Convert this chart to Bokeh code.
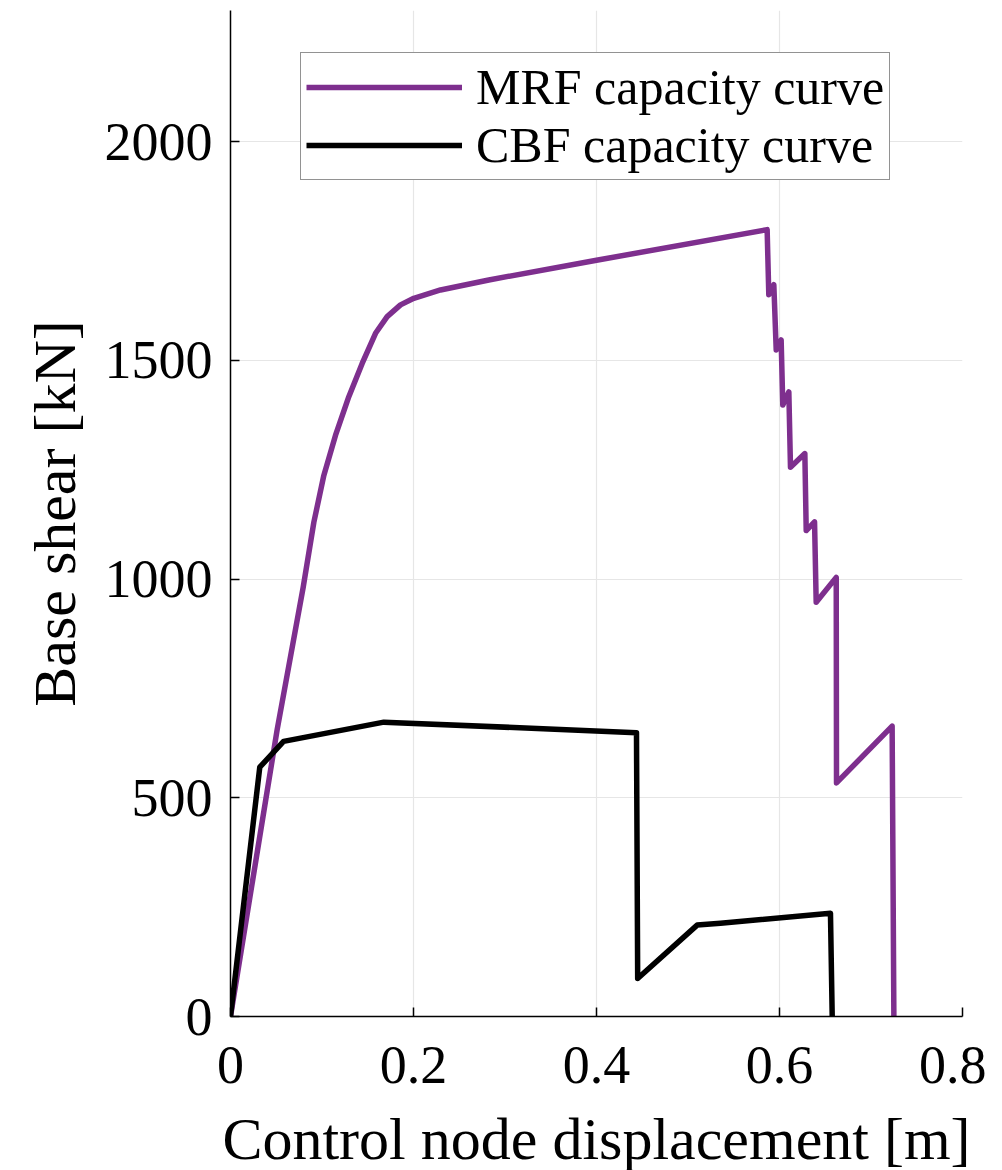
from bokeh.plotting import figure
from bokeh.models import Range1d, FixedTicker, Legend, LegendItem
from bokeh.embed import file_html
from bokeh.resources import INLINE

# MRF capacity curve (displacement [m], base shear [kN])
mrf_disp = [0.0, 0.051, 0.0794, 0.0911, 0.102, 0.1148, 0.1293, 0.1439, 0.1585, 0.1712, 0.1858,
            0.2003, 0.2295, 0.2823, 0.40, 0.5865,
            0.5883, 0.5938, 0.5964, 0.6018, 0.6036, 0.6102, 0.612, 0.6277, 0.6292, 0.6383, 0.6401,
            0.662, 0.6623, 0.7231, 0.725]
mrf_shear = [0, 656, 981, 1130, 1237, 1329, 1417, 1493, 1562, 1600, 1627,
             1642, 1661, 1684, 1729, 1799,
             1650, 1673, 1524, 1547, 1398, 1428, 1256, 1287, 1111, 1131, 947,
             1004, 534, 664, 0]

# CBF capacity curve
cbf_disp = [0.0, 0.032, 0.058, 0.1676, 0.4437, 0.445, 0.510, 0.5355, 0.6557, 0.6576]
cbf_shear = [0, 570, 629, 673, 649, 87, 209, 213, 236, 0]

x_ticks = [0, 0.2, 0.4, 0.6, 0.8]
x_tick_labels = {0: "0", 0.2: "0.2", 0.4: "0.4", 0.6: "0.6", 0.8: "0.8"}
y_ticks = [0, 500, 1000, 1500, 2000]

FONT = "Liberation Serif"

p = figure(output_backend="svg", toolbar_location=None,
           frame_width=732, frame_height=1006,
           min_border_left=230, min_border_right=24, min_border_top=10, min_border_bottom=138,
           x_range=Range1d(0, 0.8), y_range=Range1d(0, 2300))
p.outline_line_color = None
p.background_fill_color = "white"
p.border_fill_color = "white"

r1 = p.line(mrf_disp, mrf_shear, line_color="#7E2F8E", line_width=5.5, line_join="round")
r2 = p.line(cbf_disp, cbf_shear, line_color="black", line_width=5.5, line_join="round")

for ax in (p.xaxis[0], p.yaxis[0]):
    ax.major_tick_in = 9
    ax.major_tick_out = 0
    ax.minor_tick_in = 0
    ax.minor_tick_out = 0
    ax.major_tick_line_width = 1.5
    ax.major_tick_line_color = "black"
    ax.axis_line_color = "black"
    ax.axis_line_width = 1.5
    ax.major_label_text_font = FONT
    ax.major_label_text_font_size = "54px"
    ax.major_label_text_color = "black"
    ax.axis_label_text_font = FONT
    ax.axis_label_text_font_size = "60px"
    ax.axis_label_text_font_style = "normal"
    ax.axis_label_text_color = "black"

p.xaxis.ticker = FixedTicker(ticks=x_ticks)
p.xaxis.major_label_overrides = x_tick_labels
p.yaxis.ticker = FixedTicker(ticks=y_ticks)
p.xaxis.axis_label = "Control node displacement [m]"
p.yaxis.axis_label = "Base shear [kN]"
p.xaxis.major_label_standoff = 30
p.yaxis.major_label_standoff = 18
p.xaxis.axis_label_standoff = 20
p.yaxis.axis_label_standoff = 14

p.xgrid.ticker = FixedTicker(ticks=x_ticks)
p.ygrid.ticker = FixedTicker(ticks=y_ticks)
p.grid.grid_line_color = "#e6e6e6"
p.grid.grid_line_width = 1.2

legend = Legend(items=[LegendItem(label="MRF capacity curve", renderers=[r1]),
                       LegendItem(label="CBF capacity curve", renderers=[r2])],
                location=(70, 836))
legend.label_text_font = FONT
legend.label_text_font_size = "50px"
legend.label_text_color = "black"
legend.glyph_width = 156
legend.glyph_height = 40
legend.label_standoff = 14
legend.padding = 5
legend.spacing = 0
legend.margin = 0
legend.border_line_color = "#262626"
legend.border_line_width = 1.5
legend.background_fill_color = "white"
legend.background_fill_alpha = 1.0
p.add_layout(legend, "center")

open("out.html", "w").write(file_html(p, INLINE))
